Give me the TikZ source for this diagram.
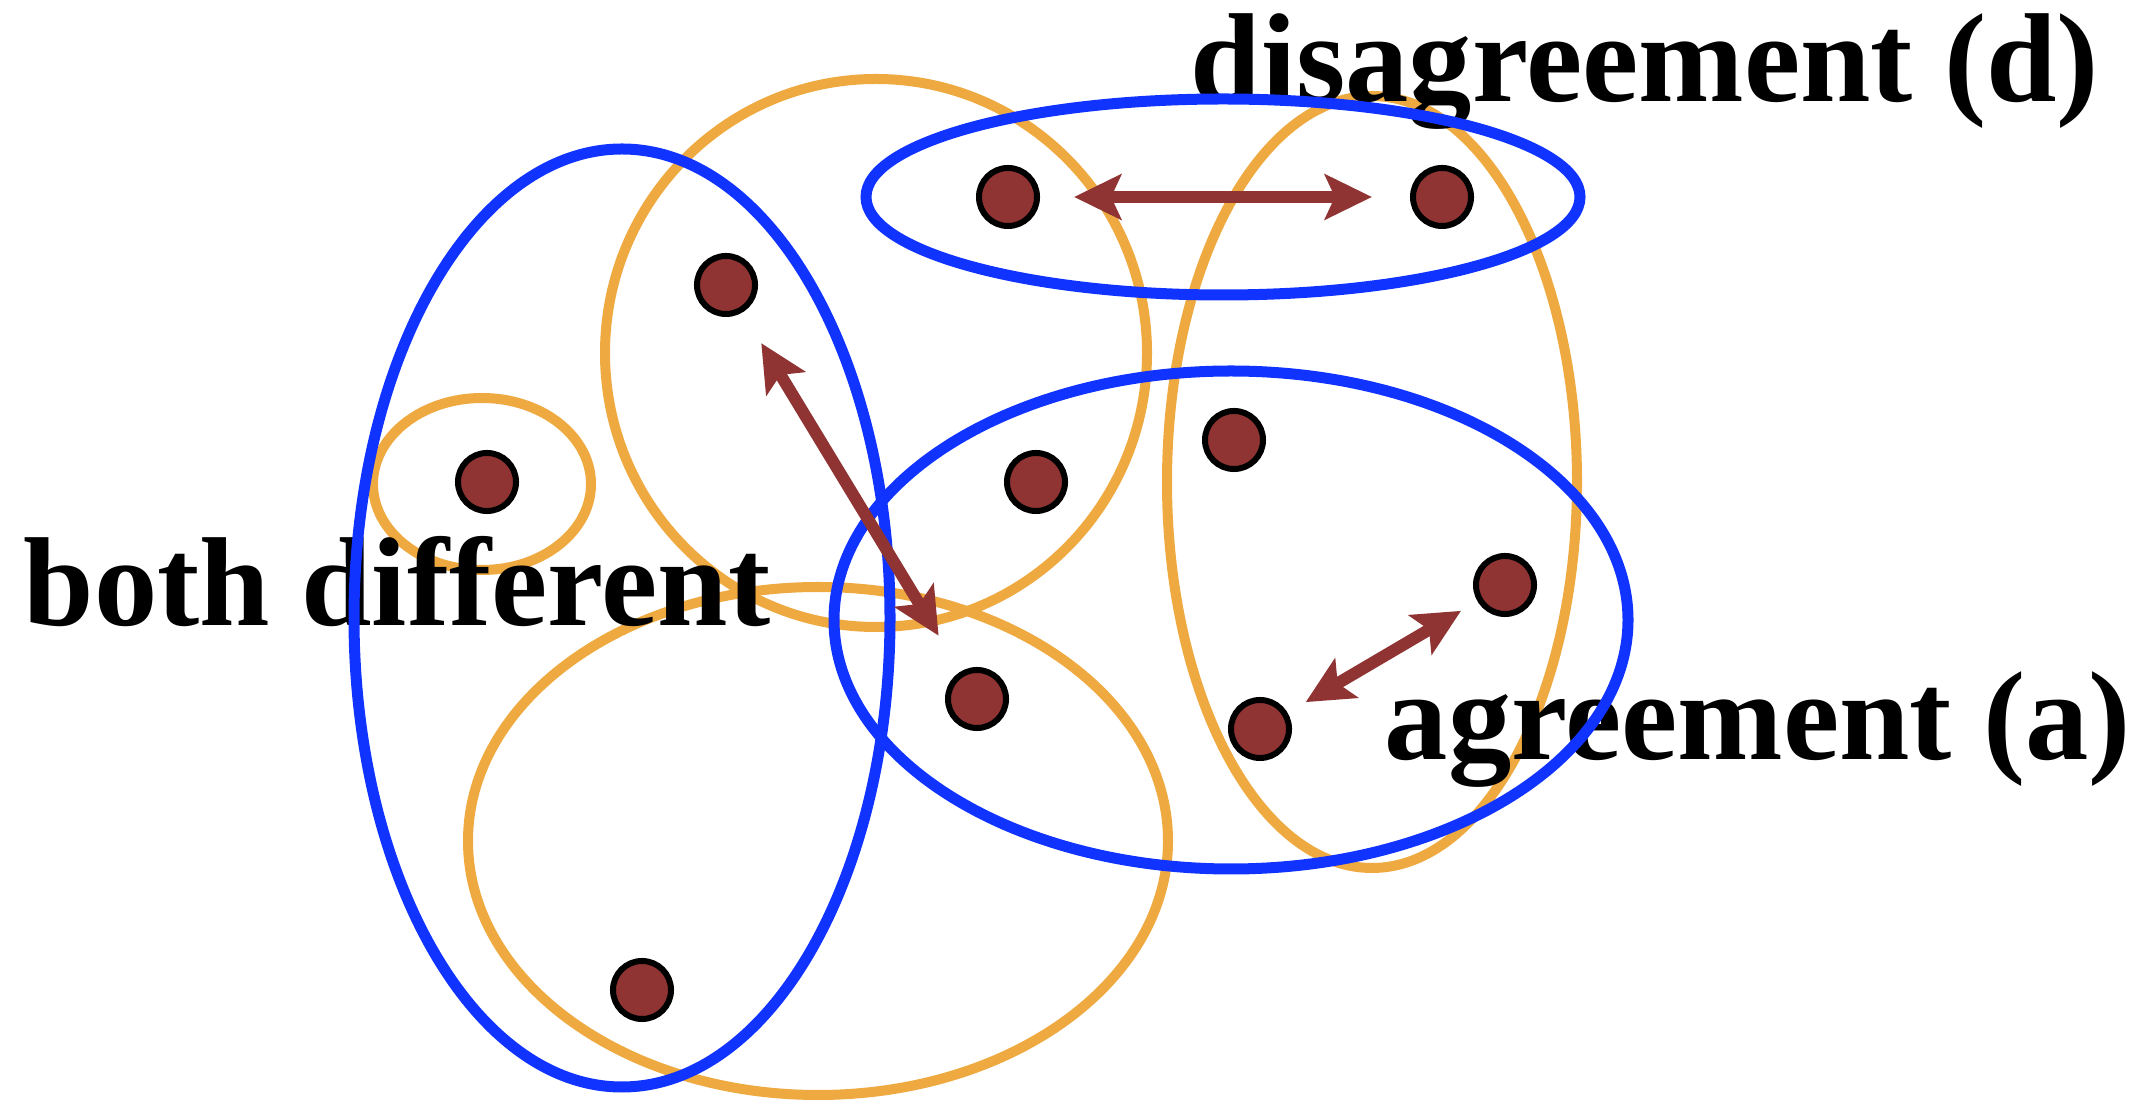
\documentclass[tikz,border=0pt]{standalone}
\usepackage{fontspec}
\setmainfont{Liberation Serif}
\usetikzlibrary{arrows.meta}
\definecolor{dotred}{RGB}{143,51,51}
\definecolor{setblue}{RGB}{17,51,255}
\definecolor{setorange}{RGB}{238,170,64}
\begin{document}
\begin{tikzpicture}[x=0.01cm,y=-0.01cm,
  dot/.style={circle,draw=black,fill=dotred,line width=0.06cm,minimum size=0.58cm,inner sep=0pt},
  orangeset/.style={draw=setorange,line width=0.10cm},
  blueset/.style={draw=setblue,line width=0.11cm},
  rel/.style={draw=dotred,line width=0.12cm,
    {Stealth[length=0.47cm,width=0.45cm,inset=0.1cm]}-{Stealth[length=0.47cm,width=0.45cm,inset=0.1cm]}},
  lbl/.style={font=\fontsize{36}{40}\selectfont\bfseries,inner sep=0pt,anchor=base}]
\useasboundingbox (0,0) rectangle (2145,1104);
% orange sets
\draw[orangeset] (876,353) ellipse [x radius=271, y radius=274];
\draw[orangeset] (482,484) ellipse [x radius=109, y radius=86];
\draw[orangeset] (818,841) ellipse [x radius=350, y radius=254];
\draw[orangeset] (1372,482) ellipse [x radius=205, y radius=386];
% labels
\node[lbl] (tdis) at (1645,102) {disagreement (d)};
\node[lbl] (tboth) at (397,626) {both different};
\node[lbl] (tagr) at (1758,760) {agreement (a)};
% blue sets
\draw[blueset] (622,618) ellipse [x radius=268, y radius=469];
\draw[blueset] (1223,197) ellipse [x radius=357, y radius=98];
\draw[blueset] (1231,620) ellipse [x radius=397, y radius=249];
% dots
\node[dot] (p1) at (1008,197) {};
\node[dot] (p2) at (1442,197) {};
\node[dot] (p3) at (726,285) {};
\node[dot] (p4) at (487,482) {};
\node[dot] (p5) at (1036,482) {};
\node[dot] (p6) at (1234,440) {};
\node[dot] (p7) at (1505,585) {};
\node[dot] (p8) at (1260,729) {};
\node[dot] (p9) at (977,699) {};
\node[dot] (p10) at (642,990) {};
% relations
\draw[rel,shorten <=0.34cm,shorten >=0.38cm] (p1) -- (p2);
\draw[rel,shorten <=0.36cm,shorten >=0.42cm] (p3) -- (p9);
\draw[rel,shorten <=0.21cm,shorten >=0.19cm] (p8) -- (p7);
\end{tikzpicture}
\end{document}
